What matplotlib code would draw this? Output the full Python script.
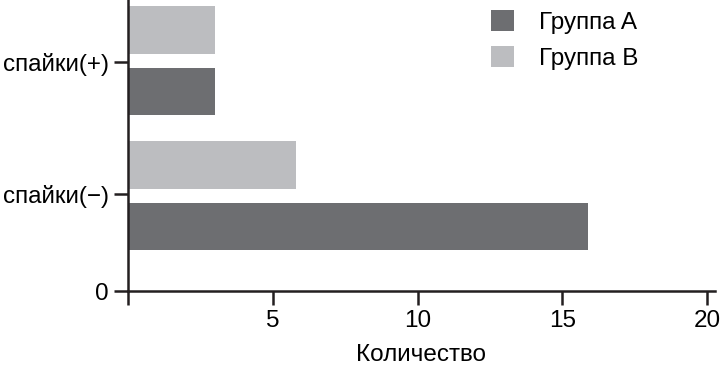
import matplotlib.pyplot as plt
import numpy as np

plt.rcParams['font.family'] = ['Liberation Sans', 'DejaVu Sans']

categories = ['спайки(−)', 'спайки(+)']
group_a = [15.9, 3]
group_b = [5.8, 3]
labels = ['Группа A', 'Группа B']
xticks = [0, 5, 10, 15, 20]

dark = '#6d6e71'
light = '#bcbdc0'

fig = plt.figure(figsize=(7.21, 3.69), dpi=100)
ax = fig.add_axes([128 / 721, 78 / 369, 587 / 721, 291 / 369])

pos = np.array([0.705, 1.705])
off = 0.228
h = 0.35
ax.barh(pos - off, group_a, height=h, color=dark, label=labels[0])
ax.barh(pos + off, group_b, height=h, color=light, label=labels[1])

ax.set_xlim(0, 20.27)
ax.set_ylim(0, 2.156)
ax.set_xticks(xticks)
ax.set_xticklabels([''] + [str(t) for t in xticks[1:]])
ax.set_yticks([0, 0.72, 1.70])
ax.set_yticklabels(['0'] + categories)

for s in ['top', 'right']:
    ax.spines[s].set_visible(False)
for s in ['left', 'bottom']:
    ax.spines[s].set_linewidth(1.8)
    ax.spines[s].set_color('#231f20')
ax.tick_params(axis='both', length=10, width=1.8, color='#231f20',
               labelsize=17.5, pad=4)
ax.set_xlabel('Количество', fontsize=17.5, labelpad=8)

ax.legend(loc='upper right', bbox_to_anchor=(0.906, 1.04), frameon=False,
          fontsize=17.5, handlelength=0.95, handleheight=0.95, handletextpad=1.0,
          labelspacing=0.5)

fig.savefig('out.png', dpi=100)
